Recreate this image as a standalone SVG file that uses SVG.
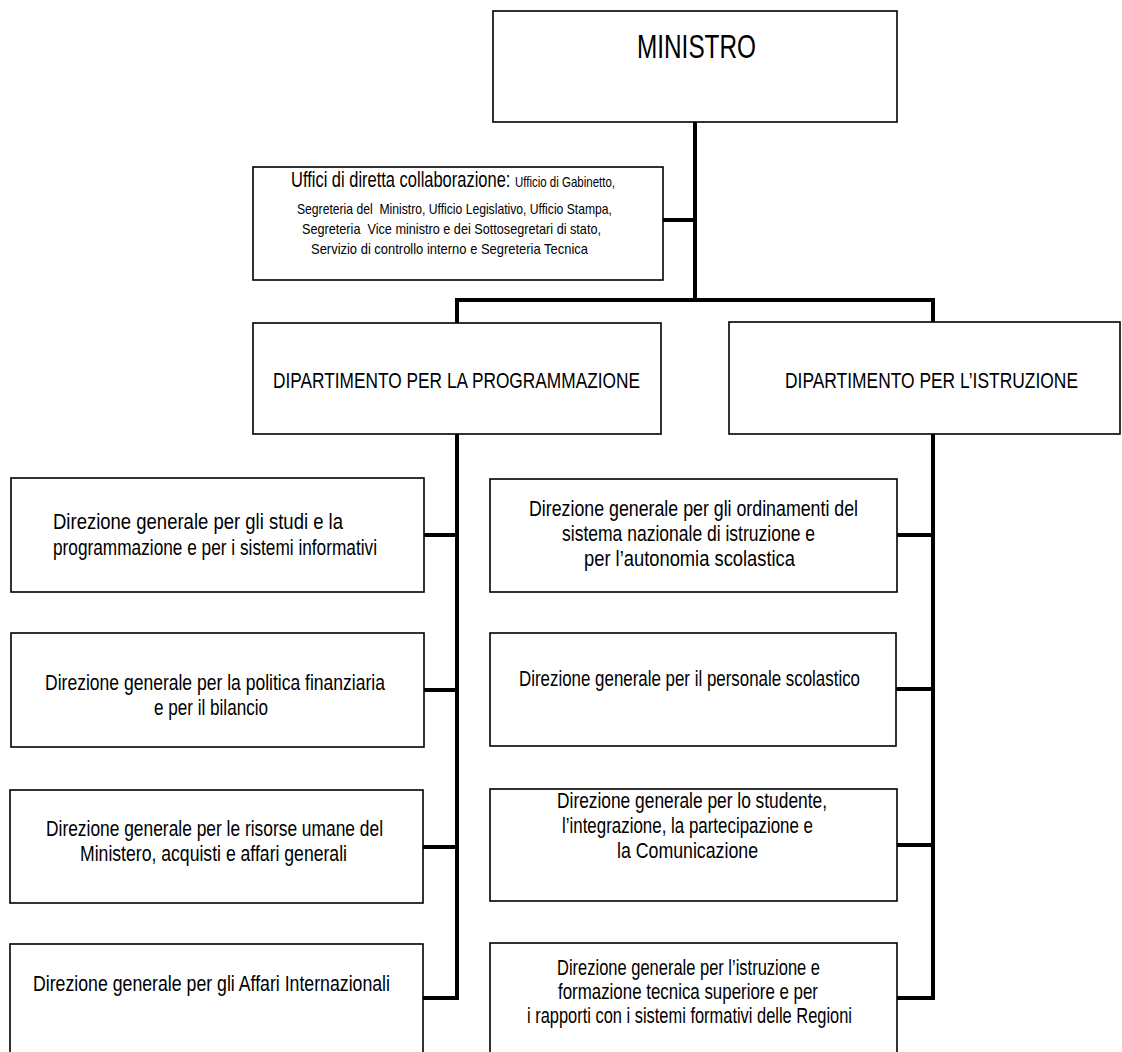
<svg xmlns="http://www.w3.org/2000/svg" width="1122" height="1052" viewBox="0 0 1122 1052">
  <style>
    .box { fill: #ffffff; stroke: #000000; stroke-width: 1.6; }
    .wire { fill: none; stroke: #000000; stroke-width: 4; stroke-linejoin: miter; }
    text { font-family: "Liberation Sans Narrow", "Liberation Sans", Arial, sans-serif; fill: #000000; }
    .t { font-size: 21.5px; }
    .big { font-size: 33px; }
    .small { font-size: 15px; }
    .pre { white-space: pre; }
  </style>

  <rect width="1122" height="1052" fill="#ffffff"/>

  <!-- connectors -->
  <g id="connectors">
    <path class="wire" d="M695 122 V300"/>
    <path class="wire" d="M663 220 H695"/>
    <path class="wire" d="M457 323 V300 H933 V322"/>
    <path class="wire" d="M457 434 V998 H423"/>
    <path class="wire" d="M424 535 H457 M424 690 H457 M423 847 H457"/>
    <path class="wire" d="M933 434 V998 H897"/>
    <path class="wire" d="M897 535 H933 M896 689 H933 M897 845 H933"/>
  </g>

  <!-- top level -->
  <g id="ministro">
    <rect class="box" x="493" y="11" width="404" height="111"/>
    <text class="big" x="637" y="58" textLength="119" lengthAdjust="spacingAndGlyphs">MINISTRO</text>
  </g>

  <g id="uffici">
    <rect class="box" x="253" y="167" width="410" height="113"/>
    <text x="291" y="187" textLength="324" lengthAdjust="spacingAndGlyphs"><tspan class="t">Uffici di diretta collaborazione: </tspan><tspan class="small">Ufficio di Gabinetto,</tspan></text>
    <text class="small pre" x="297" y="214" textLength="315" lengthAdjust="spacingAndGlyphs">Segreteria del  Ministro, Ufficio Legislativo, Ufficio Stampa,</text>
    <text class="small pre" x="302" y="234" textLength="299" lengthAdjust="spacingAndGlyphs">Segreteria  Vice ministro e dei Sottosegretari di stato,</text>
    <text class="small" x="311" y="254" textLength="277" lengthAdjust="spacingAndGlyphs">Servizio di controllo interno e Segreteria Tecnica</text>
  </g>

  <!-- departments -->
  <g id="dip-programmazione">
    <rect class="box" x="253" y="323" width="408" height="111"/>
    <text class="t" x="273" y="388" textLength="367" lengthAdjust="spacingAndGlyphs">DIPARTIMENTO PER LA PROGRAMMAZIONE</text>
  </g>

  <g id="dip-istruzione">
    <rect class="box" x="729" y="322" width="391" height="112"/>
    <text class="t" x="785" y="388" textLength="293" lengthAdjust="spacingAndGlyphs">DIPARTIMENTO PER L’ISTRUZIONE</text>
  </g>

  <!-- directorates under programmazione -->
  <g id="dg-studi">
    <rect class="box" x="11" y="478" width="413" height="114"/>
    <text class="t" x="53" y="529" textLength="290" lengthAdjust="spacingAndGlyphs">Direzione generale per gli studi e la</text>
    <text class="t" x="53" y="555" textLength="324" lengthAdjust="spacingAndGlyphs">programmazione e per i sistemi informativi</text>
  </g>

  <g id="dg-bilancio">
    <rect class="box" x="11" y="633" width="413" height="114"/>
    <text class="t" x="45" y="690" textLength="340" lengthAdjust="spacingAndGlyphs">Direzione generale per la politica finanziaria</text>
    <text class="t" x="154" y="715" textLength="114" lengthAdjust="spacingAndGlyphs">e per il bilancio</text>
  </g>

  <g id="dg-risorse">
    <rect class="box" x="10" y="790" width="413" height="113"/>
    <text class="t" x="46" y="836" textLength="337" lengthAdjust="spacingAndGlyphs">Direzione generale per le risorse umane del</text>
    <text class="t" x="80" y="861" textLength="267" lengthAdjust="spacingAndGlyphs">Ministero, acquisti e affari generali</text>
  </g>

  <g id="dg-internazionali">
    <rect class="box" x="10" y="944" width="413" height="120"/>
    <text class="t" x="33" y="991" textLength="357" lengthAdjust="spacingAndGlyphs">Direzione generale per gli Affari Internazionali</text>
  </g>

  <!-- directorates under istruzione -->
  <g id="dg-ordinamenti">
    <rect class="box" x="490" y="479" width="407" height="113"/>
    <text class="t" x="529" y="516" textLength="329" lengthAdjust="spacingAndGlyphs">Direzione generale per gli ordinamenti del</text>
    <text class="t" x="562" y="541" textLength="253" lengthAdjust="spacingAndGlyphs">sistema nazionale di istruzione e</text>
    <text class="t" x="584" y="566" textLength="211" lengthAdjust="spacingAndGlyphs">per l’autonomia scolastica</text>
  </g>

  <g id="dg-personale">
    <rect class="box" x="490" y="633" width="406" height="113"/>
    <text class="t" x="519" y="686" textLength="341" lengthAdjust="spacingAndGlyphs">Direzione generale per il personale scolastico</text>
  </g>

  <g id="dg-studente">
    <rect class="box" x="490" y="789" width="407" height="112"/>
    <text class="t" x="557" y="808" textLength="270" lengthAdjust="spacingAndGlyphs">Direzione generale per lo studente,</text>
    <text class="t" x="562" y="833" textLength="251" lengthAdjust="spacingAndGlyphs">l’integrazione, la partecipazione e</text>
    <text class="t" x="617" y="858" textLength="141" lengthAdjust="spacingAndGlyphs">la Comunicazione</text>
  </g>

  <g id="dg-formazione">
    <rect class="box" x="490" y="943" width="407" height="120"/>
    <text class="t" x="557" y="975" textLength="263" lengthAdjust="spacingAndGlyphs">Direzione generale per l’istruzione e</text>
    <text class="t" x="558" y="999" textLength="260" lengthAdjust="spacingAndGlyphs">formazione tecnica superiore e per</text>
    <text class="t" x="527" y="1023" textLength="325" lengthAdjust="spacingAndGlyphs">i rapporti con i sistemi formativi delle Regioni</text>
  </g>
</svg>
